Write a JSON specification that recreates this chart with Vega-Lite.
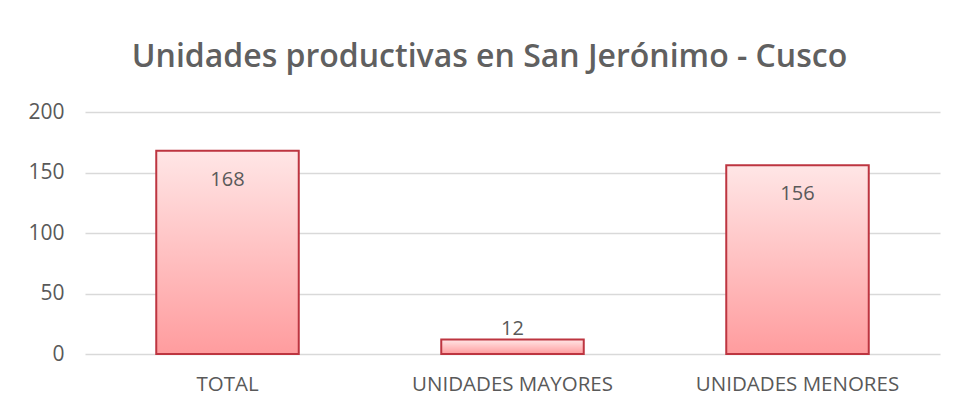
{
  "$schema": "https://vega.github.io/schema/vega-lite/v6.json",
  "autosize": {"type": "none"},
  "padding": {"left": 85, "top": 112, "right": 18, "bottom": 56},
  "width": 855,
  "height": 242,
  "background": "white",
  "title": {
    "text": "Unidades productivas en San Jerónimo - Cusco",
    "font": "Open Sans",
    "fontSize": 32,
    "fontWeight": 600,
    "color": "#606060",
    "anchor": "middle",
    "dx": -23,
    "offset": 27
  },
  "data": {
    "values": [
      {"categoria": "TOTAL", "valor": 168},
      {"categoria": "UNIDADES MAYORES", "valor": 12},
      {"categoria": "UNIDADES MENORES", "valor": 156}
    ]
  },
  "config": {
    "view": {"stroke": null},
    "font": "Open Sans"
  },
  "encoding": {
    "x": {
      "field": "categoria",
      "type": "nominal",
      "sort": null,
      "scale": {"paddingInner": 0.5, "paddingOuter": 0.25},
      "axis": {
        "title": null,
        "labelAngle": 0,
        "labelLimit": 0,
        "labelFont": "Open Sans",
        "labelFontSize": 20.5,
        "labelColor": "#595959",
        "labelPadding": 20,
        "domain": false,
        "ticks": false
      }
    },
    "y": {
      "field": "valor",
      "type": "quantitative",
      "scale": {"domain": [0, 200]},
      "axis": {
        "title": null,
        "values": [0, 50, 100, 150, 200],
        "labelFont": "Open Sans",
        "labelFontSize": 21,
        "labelColor": "#595959",
        "labelPadding": 21,
        "domain": false,
        "ticks": false,
        "gridColor": "#d9d9d9",
        "gridWidth": 1.5
      }
    }
  },
  "layer": [
    {
      "mark": {
        "type": "bar",
        "stroke": "#bd3540",
        "strokeWidth": 2,
        "color": {
          "gradient": "linear",
          "x1": 0, "y1": 0, "x2": 0, "y2": 1,
          "stops": [
            {"offset": 0, "color": "#ffe6e6"},
            {"offset": 1, "color": "#ff9c9e"}
          ]
        }
      }
    },
    {
      "transform": [{"filter": "datum.valor >= 30"}],
      "mark": {
        "type": "text",
        "baseline": "middle",
        "dy": 29,
        "font": "Open Sans",
        "fontSize": 20,
        "color": "#595959"
      },
      "encoding": {"text": {"field": "valor", "type": "quantitative"}}
    },
    {
      "transform": [{"filter": "datum.valor < 30"}],
      "mark": {
        "type": "text",
        "baseline": "middle",
        "dy": -10,
        "font": "Open Sans",
        "fontSize": 20,
        "color": "#595959"
      },
      "encoding": {"text": {"field": "valor", "type": "quantitative"}}
    }
  ]
}
